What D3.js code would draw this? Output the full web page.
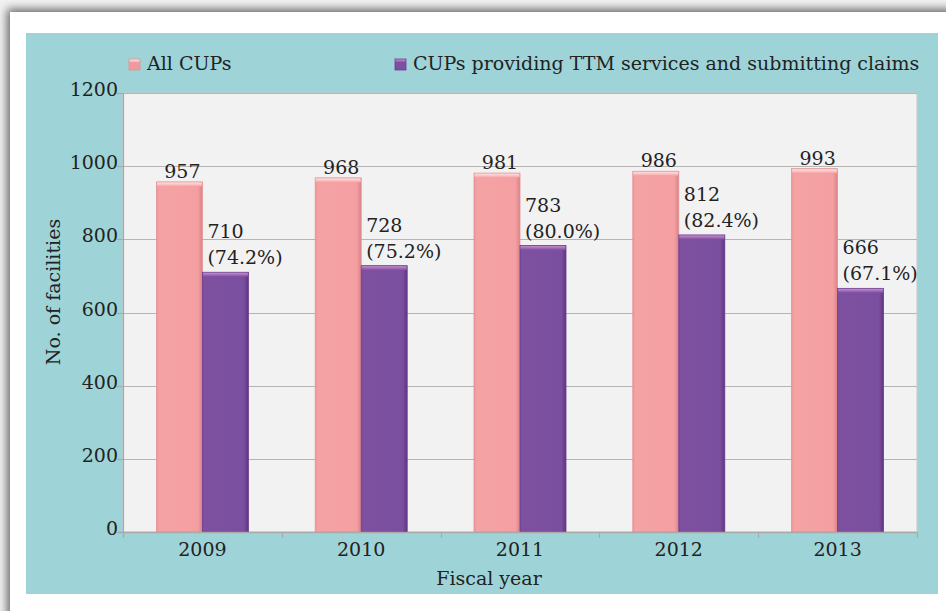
<!DOCTYPE html>
<html><head><meta charset="utf-8">
<script src="https://cdn.jsdelivr.net/npm/d3@7"></script>
<style>html,body{margin:0;padding:0;background:#fff;}svg{display:block;}</style>
</head><body>
<svg id="c" width="946" height="611"></svg>
<script>
const years = ["2009","2010","2011","2012","2013"];
const allCUPs = [957, 968, 981, 986, 993];
const ttmCUPs = [710, 728, 783, 812, 666];
const ttmPct = ["74.2%","75.2%","80.0%","82.4%","67.1%"];
const seriesNames = ["All CUPs","CUPs providing TTM services and submitting claims"];
const yTicks = [0,200,400,600,800,1000,1200];

const FONT = "'DejaVu Serif', serif";
const FS = 19;
const svg = d3.select("#c");
const defs = svg.append("defs");

// frame shadow
const f = defs.append("filter").attr("id","sh").attr("x","-10%").attr("y","-10%").attr("width","120%").attr("height","120%");
f.append("feDropShadow").attr("dx",-3).attr("dy",-3).attr("stdDeviation",5).attr("flood-color","#666").attr("flood-opacity",1);
svg.append("rect").attr("x",0).attr("y",0).attr("width",946).attr("height",611).attr("fill","#f2f2f2");
svg.append("rect").attr("x",10).attr("y",12).attr("width",960).attr("height",640).attr("fill","#fff").attr("filter","url(#sh)");

// teal panel
svg.append("rect").attr("x",26).attr("y",33).attr("width",912).attr("height",561).attr("fill","#9ed4d7");

const L = 123, R = 917, T = 93, B = 532;
const x = d3.scaleBand().domain(years).range([L,R]).paddingInner(0).paddingOuter(0);
const y = d3.scaleLinear().domain([0,1200]).range([B,T]);
const pairW = 92;
const xs = d3.scaleBand().domain([0,1]).range([0,pairW]);

// plot area
svg.append("rect").attr("x",L).attr("y",T).attr("width",R-L).attr("height",B-T).attr("fill","#f2f2f2").attr("stroke","#c9c9c9").attr("stroke-width",1);

// gridlines
svg.append("g").selectAll("line").data(yTicks.filter(d=>d>0)).join("line")
  .attr("x1",L).attr("x2",R).attr("y1",d=>Math.round(y(d))+0.5).attr("y2",d=>Math.round(y(d))+0.5)
  .attr("stroke","#b5b5b5").attr("stroke-width",1.2);

// gradients
function grad(id, stops){
  const g = defs.append("linearGradient").attr("id",id).attr("x1",0).attr("x2",0).attr("y1",0).attr("y2",1);
  stops.forEach(s=>g.append("stop").attr("offset",s[0]).attr("stop-color",s[1]));
}
grad("pinkTop",[[0,"#fde0e0"],[0.5,"#fbc4c5"],[1,"#f4a1a4"]]);
grad("purpTop",[[0,"#c48fcf"],[0.5,"#a66bb6"],[1,"#7c50a0"]]);
function hgrad(id, stops){
  const g = defs.append("linearGradient").attr("id",id).attr("x1",0).attr("x2",1).attr("y1",0).attr("y2",0);
  stops.forEach(s=>g.append("stop").attr("offset",s[0]).attr("stop-color",s[1]));
}
hgrad("pinkBody",[[0,"#ef9598"],[0.06,"#f5a2a5"],[0.9,"#f4a0a3"],[1,"#d98286"]]);
hgrad("purpBody",[[0,"#7a4c9d"],[0.06,"#7d51a0"],[0.9,"#7b4f9f"],[1,"#5e3582"]]);

const series = [
  {name:seriesNames[0], vals:allCUPs, body:"url(#pinkBody)", top:"url(#pinkTop)", stroke:"#e39193", mark:"#ef9a9c"},
  {name:seriesNames[1], vals:ttmCUPs, body:"url(#purpBody)", top:"url(#purpTop)", stroke:"#6a3d8f", mark:"#7d4fa0"}
];

const gBars = svg.append("g");
series.forEach((s,si)=>{
  years.forEach((yr,i)=>{
    const bx = x(yr) + x.bandwidth()/2 - pairW/2 + xs(si);
    const bw = xs.bandwidth();
    const by = y(s.vals[i]);
    gBars.append("rect").attr("x",bx).attr("y",by).attr("width",bw).attr("height",B-by)
      .attr("fill",s.body).attr("stroke",s.stroke).attr("stroke-width",0.8);
    gBars.append("rect").attr("x",bx+0.5).attr("y",by+0.5).attr("width",bw-1).attr("height",4)
      .attr("fill",s.top);
  });
});

// axes lines
svg.append("line").attr("x1",L+0.5).attr("x2",L+0.5).attr("y1",T).attr("y2",B+5).attr("stroke","#a9a9a9").attr("stroke-width",1.2);
svg.append("line").attr("x1",L-5).attr("x2",R).attr("y1",B+0.5).attr("y2",B+0.5).attr("stroke","#a9a9a9").attr("stroke-width",1.5);

// y ticks
const yAx = svg.append("g");
yAx.selectAll("line").data(yTicks).join("line")
  .attr("x1",L-6).attr("x2",L).attr("y1",d=>Math.round(y(d))+0.5).attr("y2",d=>Math.round(y(d))+0.5)
  .attr("stroke","#a9a9a9").attr("stroke-width",1.2);
yAx.selectAll("text").data(yTicks).join("text")
  .attr("x",118).attr("y",d=>y(d)+3).attr("text-anchor","end")
  .attr("font-family",FONT).attr("font-size",FS).attr("fill","#222").text(d=>d);

// x ticks
const xb = years.map(d=>x(d)).concat([R]);
svg.append("g").selectAll("line").data(xb).join("line")
  .attr("x1",d=>Math.round(d)+0.5).attr("x2",d=>Math.round(d)+0.5).attr("y1",B).attr("y2",B+6)
  .attr("stroke","#a9a9a9").attr("stroke-width",1.2);
svg.append("g").selectAll("text").data(years).join("text")
  .attr("x",d=>x(d)+x.bandwidth()/2).attr("y",556).attr("text-anchor","middle")
  .attr("font-family",FONT).attr("font-size",FS).attr("fill","#222").text(d=>d);

// data labels
const gl = svg.append("g").attr("font-family",FONT).attr("font-size",FS).attr("fill","#222");
years.forEach((yr,i)=>{
  const cx0 = x(yr) + x.bandwidth()/2 - pairW/2 + xs(0) + xs.bandwidth()/2 + 3;
  gl.append("text").attr("x",cx0).attr("y",y(allCUPs[i])-4).attr("text-anchor","middle").text(allCUPs[i]);
  const lx = x(yr) + x.bandwidth()/2 - pairW/2 + xs(1) + 5;
  const by = y(ttmCUPs[i]);
  gl.append("text").attr("x",lx).attr("y",by-34).text(ttmCUPs[i]);
  gl.append("text").attr("x",lx).attr("y",by-8).text("(" + ttmPct[i] + ")");
});

// axis titles
svg.append("text").attr("x",489).attr("y",585).attr("text-anchor","middle")
  .attr("font-family",FONT).attr("font-size",FS).attr("fill","#222").text("Fiscal year");
svg.append("text").attr("transform","translate(60,292) rotate(-90)").attr("text-anchor","middle")
  .attr("font-family",FONT).attr("font-size",FS).attr("fill","#222").text("No. of facilities");

// legend
const legX = [129, 395];
const lg = svg.append("g");
series.forEach((s,si)=>{
  lg.append("rect").attr("x",legX[si]).attr("y",59).attr("width",11).attr("height",11)
    .attr("fill",s.mark).attr("stroke",s.stroke).attr("stroke-width",0.8);
  lg.append("rect").attr("x",legX[si]+0.5).attr("y",59.5).attr("width",10).attr("height",3).attr("fill",s.top);
  lg.append("text").attr("x",legX[si]+18).attr("y",70).attr("font-family",FONT).attr("font-size",FS)
    .attr("fill","#222").text(s.name);
});
</script>
</body></html>
